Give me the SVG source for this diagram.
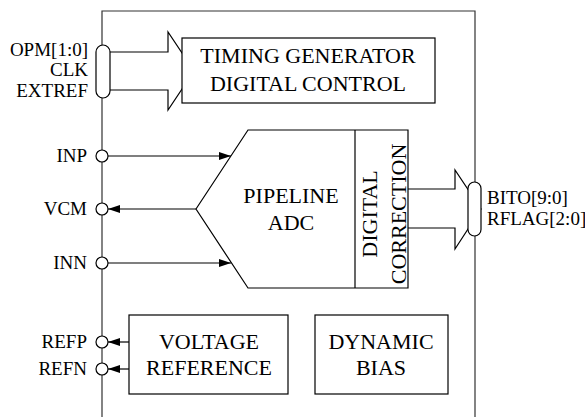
<svg xmlns="http://www.w3.org/2000/svg" width="585" height="417" viewBox="0 0 585 417" font-family="Liberation Serif, DejaVu Serif, serif">
<style>
.ln{stroke:#000;stroke-width:1.2;fill:none}
.bx{stroke:#000;stroke-width:1.2;fill:#fff}
.fr{stroke:#333;stroke-width:1.2;fill:none}
.pin{stroke:#000;stroke-width:1.2;fill:#fff}
.t{font-size:22px;text-anchor:middle;fill:#000}
.l{font-size:19px;text-anchor:end;fill:#000}
.r{font-size:19px;text-anchor:start;fill:#000}
</style>
<defs>
<marker id="ah" viewBox="0 0 12 8" refX="12" refY="4" markerWidth="12" markerHeight="8" markerUnits="userSpaceOnUse" orient="auto">
<path d="M0,0 L12,4 L0,8 Z" fill="#000"/>
</marker>
</defs>
<rect width="585" height="417" fill="#fff"/>
<g id="frame">
<path class="fr" d="M102,417 V11 H475 V417"/>
</g>
<g id="connectors">
<path class="ln" d="M110,52 H168 V32 L194,71 L168,110 V90 H110"/>
<path class="ln" d="M408,189 H455 V170 L481,209 L455,249 V228 H408"/>
<line class="ln" x1="108" y1="156" x2="231" y2="156" marker-end="url(#ah)"/>
<line class="ln" x1="196" y1="209" x2="108" y2="209" marker-end="url(#ah)"/>
<line class="ln" x1="108" y1="263" x2="231" y2="263" marker-end="url(#ah)"/>
<line class="ln" x1="129" y1="342" x2="108" y2="342" marker-end="url(#ah)"/>
<line class="ln" x1="129" y1="369" x2="108" y2="369" marker-end="url(#ah)"/>
</g>
<g id="timing">
<rect class="bx" x="182" y="38" width="253" height="65"/>
<text class="t" x="308" y="63" font-family="Liberation Serif, serif">TIMING GENERATOR</text>
<text class="t" x="308" y="91" font-family="Liberation Serif, serif">DIGITAL CONTROL</text>
</g>
<g id="bus-in">
<rect class="pin" x="96" y="45" width="14" height="53" rx="7"/>
<text class="l" x="88" y="56">OPM[1:0]</text>
<text class="l" x="88" y="76">CLK</text>
<text class="l" x="88" y="97">EXTREF</text>
</g>
<g id="adc">
<path class="bx" d="M196,209 L248,130 H408 V288 H248 Z"/>
<line class="ln" x1="355" y1="130" x2="355" y2="288"/>
<text class="t" x="291" y="203">PIPELINE</text>
<text class="t" x="291" y="230">ADC</text>
<text class="t" transform="translate(377,214) rotate(-90)">DIGITAL</text>
<text class="t" transform="translate(406,214) rotate(-90)">CORRECTION</text>
</g>
<g id="bus-out">
<rect class="pin" x="468" y="182" width="13" height="54" rx="6.5"/>
<text class="r" x="487" y="204">BITO[9:0]</text>
<text class="r" x="487" y="225">RFLAG[2:0]</text>
</g>
<g id="pin-inp">
<circle class="pin" cx="102" cy="156" r="6"/>
<text class="l" x="87" y="162">INP</text>
</g>
<g id="pin-vcm">
<circle class="pin" cx="102" cy="209" r="6"/>
<text class="l" x="87" y="215">VCM</text>
</g>
<g id="pin-inn">
<circle class="pin" cx="102" cy="263" r="6"/>
<text class="l" x="87" y="269">INN</text>
</g>
<g id="pin-refp">
<circle class="pin" cx="102" cy="342" r="6"/>
<text class="l" x="87" y="348">REFP</text>
</g>
<g id="pin-refn">
<circle class="pin" cx="102" cy="369" r="6"/>
<text class="l" x="87" y="375">REFN</text>
</g>
<g id="vref">
<rect class="bx" x="129" y="315" width="159" height="79"/>
<text class="t" x="209" y="349">VOLTAGE</text>
<text class="t" x="209" y="375">REFERENCE</text>
</g>
<g id="bias">
<rect class="bx" x="315" y="315" width="133" height="79"/>
<text class="t" x="381" y="349">DYNAMIC</text>
<text class="t" x="381" y="375">BIAS</text>
</g>
</svg>
